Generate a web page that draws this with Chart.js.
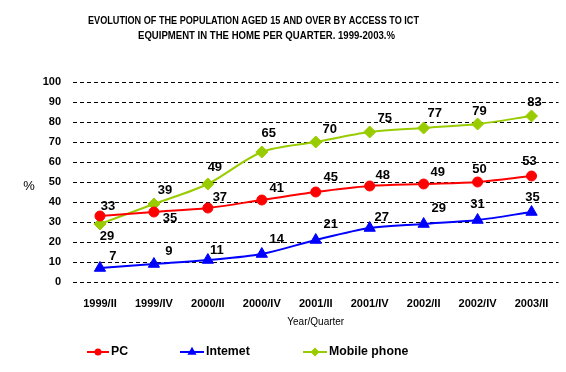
<!DOCTYPE html>
<html>
<head>
<meta charset="utf-8">
<script src="https://cdn.jsdelivr.net/npm/chart.js@4.4.1/dist/chart.umd.min.js"></script>
<style>
  body { margin: 0; background: #fff; }
  canvas { display: block; }
</style>
</head>
<body>
<canvas id="chart" width="566" height="372"></canvas>
<script>
// data
const quarters = ['1999/II', '1999/IV', '2000/II', '2000/IV', '2001/II', '2001/IV', '2002/II', '2002/IV', '2003/II'];
const pcValues = [33, 35, 37, 41, 45, 48, 49, 50, 53];
const internetValues = [7, 9, 11, 14, 21, 27, 29, 31, 35];
const mobileValues = [29, 39, 49, 65, 70, 75, 77, 79, 83];
const yTicks = [0, 10, 20, 30, 40, 50, 60, 70, 80, 90, 100];

const titleLines = [
  'EVOLUTION OF THE POPULATION AGED 15 AND OVER BY ACCESS TO ICT',
  'EQUIPMENT IN THE HOME PER QUARTER. 1999-2003.%'
];

const FONT = '"Liberation Sans", Arial, sans-serif';

// where each value label sits relative to its point (dx, dy)
const labelShift = {
  pc: [[8, -10], [16, 6], [12, -11], [15, -12], [15, -15], [13, -11], [14, -12], [2, -13], [-2, -15]],
  internet: [[13, -12], [15, -13], [9, -10], [15, -15], [15, -16], [12, -11], [15, -16], [0, -16], [1, -15]],
  mobile: [[7, 12], [11, -14], [7, -17], [7, -19], [14, -13], [15, -14], [11, -15], [2, -13], [3, -14]]
};

function series(label, values, color, style, radius, key) {
  return {
    label: label,
    data: values,
    borderColor: color,
    backgroundColor: color,
    borderWidth: 2,
    pointStyle: style,
    pointRadius: radius,
    pointHoverRadius: radius,
    pointBorderWidth: 1,
    tension: 0.3,
    shiftKey: key
  };
}

const textPlugin = {
  id: 'texts',
  afterDatasetsDraw(chart) {
    const ctx = chart.ctx;
    const area = chart.chartArea;
    ctx.save();
    ctx.fillStyle = '#000';
    ctx.textBaseline = 'middle';

    // value labels
    ctx.font = 'bold 13px ' + FONT;
    ctx.textAlign = 'center';
    chart.data.datasets.forEach((ds, i) => {
      const meta = chart.getDatasetMeta(i);
      meta.data.forEach((pt, j) => {
        const s = labelShift[ds.shiftKey][j];
        ctx.fillText(String(ds.data[j]), pt.x + s[0], pt.y + s[1]);
      });
    });

    // title
    ctx.textAlign = 'left';
    ctx.font = 'bold 10.5px ' + FONT;
    ctx.fillText(titleLines[0], 88, 21, 331);
    ctx.fillText(titleLines[1], 138, 36, 257);

    // axis titles
    ctx.textAlign = 'center';
    ctx.font = '13px ' + FONT;
    ctx.fillText('%', 29, 186);
    ctx.font = '10px ' + FONT;
    ctx.fillText('Year/Quarter', (area.left + area.right) / 2, 322);

    // legend
    const items = [
      { line: [87, 109], text: 111 },
      { line: [180, 204], text: 206 },
      { line: [303, 327], text: 329 }
    ];
    const ly = 352;
    chart.data.datasets.forEach((ds, i) => {
      const it = items[i];
      ctx.strokeStyle = ds.borderColor;
      ctx.lineWidth = 2;
      ctx.beginPath();
      ctx.moveTo(it.line[0], ly);
      ctx.lineTo(it.line[1], ly);
      ctx.stroke();
      Chart.helpers.drawPoint(ctx, {
        pointStyle: ds.pointStyle,
        radius: ds.pointRadius * 0.5,
        borderWidth: 1
      }, (it.line[0] + it.line[1]) / 2, ly);
      ctx.fillStyle = ds.borderColor;
      ctx.fill();
      ctx.fillStyle = '#000';
      ctx.textAlign = 'left';
      ctx.font = 'bold 12.3px ' + FONT;
      ctx.fillText(ds.label, it.text, ly);
    });
    ctx.restore();
  }
};

new Chart(document.getElementById('chart'), {
  type: 'line',
  data: {
    labels: quarters,
    datasets: [
      series('PC', pcValues, '#FF0000', 'circle', 5, 'pc'),
      series('Intemet', internetValues, '#0000FF', 'triangle', 6.5, 'internet'),
      series('Mobile phone', mobileValues, '#99CC00', 'rectRot', 6, 'mobile')
    ]
  },
  options: {
    responsive: false,
    animation: false,
    layout: { padding: { top: 82, right: 4, left: 0, bottom: 0 } },
    plugins: {
      legend: { display: false },
      title: { display: false },
      tooltip: { enabled: false }
    },
    scales: {
      x: {
        offset: true,
        grid: { display: false },
        border: { display: false },
        ticks: {
          color: '#000',
          font: { family: FONT, size: 11, weight: 'bold' },
          padding: 7,
          maxRotation: 0,
          autoSkip: false
        },
        afterFit(scale) { scale.height = 90; }
      },
      y: {
        min: 0,
        max: 100,
        afterBuildTicks(scale) { scale.ticks = yTicks.map((v) => ({ value: v })); },
        grid: { color: '#000', lineWidth: 1, drawTicks: false },
        border: { display: false, dash: [4, 3] },
        ticks: {
          color: '#000',
          font: { family: FONT, size: 11, weight: 'bold' },
          padding: 12
        },
        afterFit(scale) { scale.width = 73; }
      }
    }
  },
  plugins: [textPlugin]
});
</script>
</body>
</html>
